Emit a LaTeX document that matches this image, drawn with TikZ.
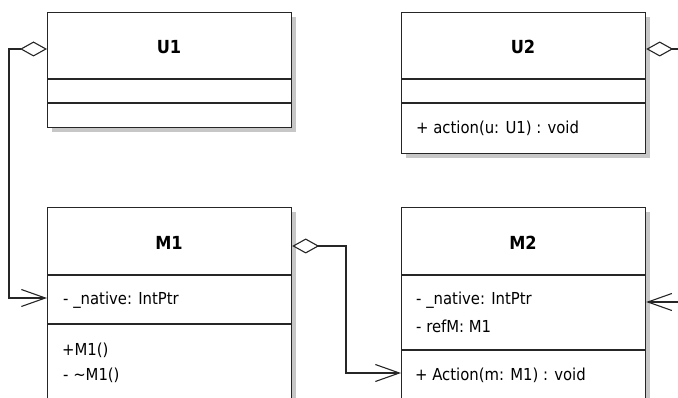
\documentclass[tikz,border=0pt]{standalone}
\usepackage{fontspec}
\setmainfont{DejaVu Sans Condensed}
\usetikzlibrary{arrows.meta}
\tikzset{
  umlbox/.style={draw=black!85, line width=1.2pt, fill=white, anchor=north west, minimum width=244pt, inner sep=0pt},
  shadowbox/.style={fill=black!22, draw=none},
  divider/.style={draw=black!85, line width=1.2pt},
  title/.style={font=\fontsize{18}{20}\selectfont\bfseries, inner sep=0pt},
  member/.style={font=\fontsize{16.5}{19}\selectfont, anchor=west, inner sep=0pt},
  conn/.style={draw=black!85, line width=1.1pt},
  aggr/.style={{Diamond[open,length=27pt,width=15pt,line width=1.1pt]}-},
  nav/.style={-{Straight Barb[length=24pt,width=17pt,line width=1.1pt]}},
  aggrnav/.style={{Diamond[open,length=27pt,width=15pt,line width=1.1pt]}-{Straight Barb[length=24pt,width=17pt,line width=1.1pt]}},
}
\begin{document}
\begin{tikzpicture}[x=1pt,y=-1pt]
\useasboundingbox (0,0) rectangle (678,398);
\clip (0,0) rectangle (678,398);
% shadows
\fill[shadowbox] (52,17) rectangle (296,132);
\fill[shadowbox] (406,17) rectangle (650,158);
\fill[shadowbox] (52,212) rectangle (296,420);
\fill[shadowbox] (406,212) rectangle (650,420);
% boxes
\node[umlbox, minimum height=115pt] (U1) at (47,12) {};
\node[umlbox, minimum height=141pt] (U2) at (401,12) {};
\node[umlbox, minimum height=210pt] (M1) at (47,207) {};
\node[umlbox, minimum height=210pt] (M2) at (401,207) {};
% dividers
\draw[divider] (47,79) -- (291,79);
\draw[divider] (47,103) -- (291,103);
\draw[divider] (401,79) -- (645,79);
\draw[divider] (401,103) -- (645,103);
\draw[divider] (47,275) -- (291,275);
\draw[divider] (47,324) -- (291,324);
\draw[divider] (401,275) -- (645,275);
\draw[divider] (401,350) -- (645,350);
% titles
\node[title] (tU1) at (169,47) {U1};
\node[title] (tU2) at (523,47) {U2};
\node[title] (tM1) at (169,243) {M1};
\node[title] (tM2) at (523,243) {M2};
% members
\node[member] (u2a) at (416,128) {+ action(u: U1) : void};
\node[member] (m1a) at (63,300) {- \_native: IntPtr};
\node[member] (m1b) at (62,350) {+M1()};
\node[member] (m1c) at (63,375) {- \textasciitilde M1()};
\node[member] (m2a) at (416,300) {- \_native: IntPtr};
\node[member] (m2b) at (416,326) {- refM: M1};
\node[member] (m2c) at (415,375) {+ Action(m: M1) : void};
% connectors
\coordinate (e1) at (678,49);
\coordinate (e2) at (678,302);
\draw[conn, aggrnav] ([yshift=-37pt]U1.north west) -- ++(-38,0) |- ([yshift=-91pt]M1.north west);
\draw[conn, aggrnav] ([yshift=-39pt]M1.north east) -- (346,246) |- ([yshift=-166pt]M2.north west);
\draw[conn, aggr] ([yshift=-37pt]U2.north east) -- (e1);
\draw[conn, nav] (e2) -- ([yshift=-95pt]M2.north east);
\end{tikzpicture}
\end{document}
